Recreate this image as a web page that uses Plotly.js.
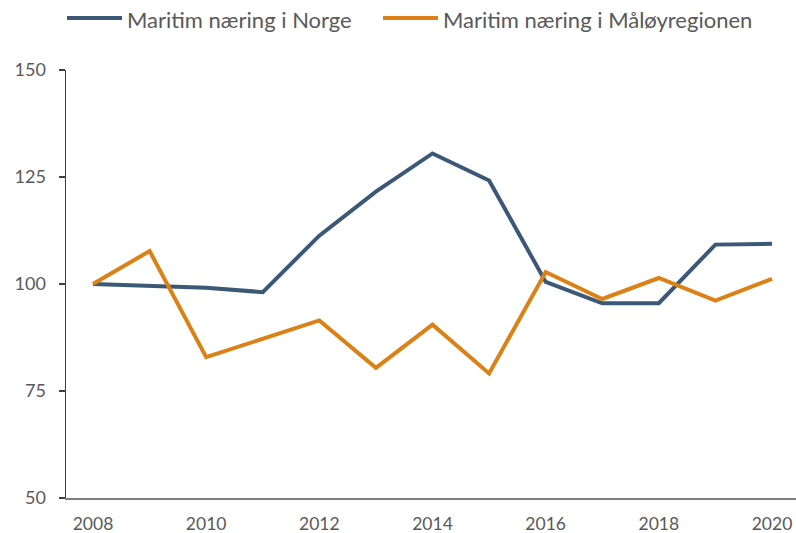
<!DOCTYPE html>
<html>
<head>
<meta charset="utf-8">
<script src="https://cdn.plot.ly/plotly-3.0.1.min.js"></script>
<style>html,body{margin:0;padding:0;background:#fff;}#chart{width:796px;height:533px;}</style>
</head>
<body>
<div id="chart"></div>
<script>
const years = [2008,2009,2010,2011,2012,2013,2014,2015,2016,2017,2018,2019,2020];
const seriesNames = ["Maritim næring i Norge", "Maritim næring i Måløyregionen"];
const norge = [100,99.5,99.1,98.1,111.3,121.6,130.5,124.2,100.5,95.5,95.5,109.2,109.4];
const maloy = [100,107.7,82.9,87.2,91.5,80.4,90.5,79.1,102.8,96.5,101.4,96.1,101.2];
const yTicks = [50,75,100,125,150];
const xTicks = [2008,2010,2012,2014,2016,2018,2020];
const colors = ['#3B5877', '#DB8116'];

const W = 796, H = 533;
const M = {l: 66, r: 0, t: 70, b: 35};
const pw = W - M.l - M.r, ph = H - M.t - M.b;
const px2x = p => (p - M.l) / pw;
const py2y = p => 1 + (M.t - p) / ph;

const font = "Lato, 'Open Sans', sans-serif";
const traces = [
  {x: years, y: norge, name: seriesNames[0], type: 'scatter', mode: 'lines',
   line: {color: colors[0], width: 4}, showlegend: false},
  {x: years, y: maloy, name: seriesNames[1], type: 'scatter', mode: 'lines',
   line: {color: colors[1], width: 4}, showlegend: false}
];

// manual legend (longer line samples like the reference)
const legendItems = [
  {x0: 67, x1: 122, tx: 125},
  {x0: 383, x1: 438, tx: 441}
];
const legY = 18;
const shapes = legendItems.map((it, i) => ({
  type: 'line', xref: 'paper', yref: 'paper',
  x0: px2x(it.x0), x1: px2x(it.x1), y0: py2y(legY), y1: py2y(legY),
  line: {color: colors[i], width: 4}
}));
const annotations = legendItems.map((it, i) => ({
  xref: 'paper', yref: 'paper', x: px2x(it.tx), y: py2y(legY + 1),
  xanchor: 'left', yanchor: 'middle', showarrow: false,
  text: seriesNames[i], font: {size: 22, color: '#595959', family: font}
}));

const layout = {
  width: W, height: H,
  margin: {l: M.l, r: M.r, t: M.t, b: M.b, pad: 0},
  paper_bgcolor: '#fff', plot_bgcolor: '#fff',
  font: {family: font, color: '#595959', size: 18},
  showlegend: false,
  shapes: shapes,
  annotations: annotations,
  xaxis: {range: [2007.523, 2020.424], tickvals: xTicks, ticktext: xTicks.map(String),
          showgrid: false, zeroline: false, showline: true, linecolor: '#7f7f7f', linewidth: 1.5,
          ticks: '', ticklabelstandoff: 9, tickfont: {size: 17.5, color: '#595959'}, fixedrange: true},
  yaxis: {range: [50, 150], tickvals: yTicks, ticktext: yTicks.map(String),
          showgrid: false, zeroline: false, showline: true, linecolor: '#404040', linewidth: 1.5,
          ticks: 'outside', ticklen: 6, tickwidth: 1.5, tickcolor: '#404040', ticklabelstandoff: 9,
          tickfont: {size: 18, color: '#595959'}, fixedrange: true}
};
Plotly.newPlot('chart', traces, layout, {displayModeBar: false, staticPlot: true});
</script>
</body>
</html>
